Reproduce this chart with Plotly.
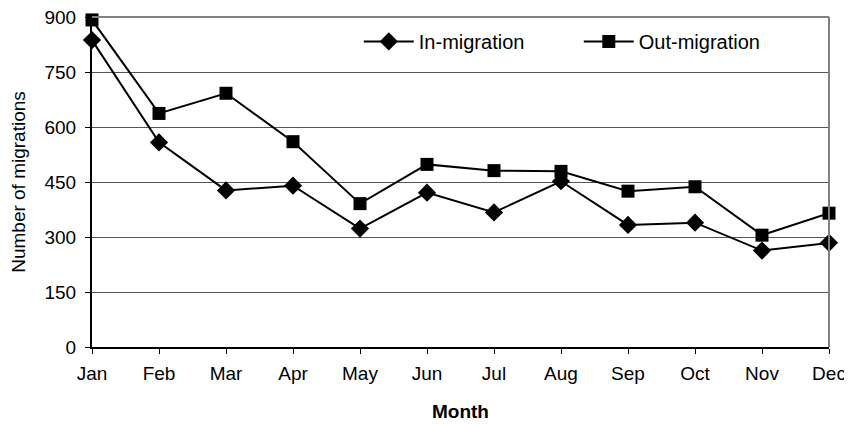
import plotly.graph_objects as go

months = ["Jan", "Feb", "Mar", "Apr", "May", "Jun", "Jul", "Aug", "Sep", "Oct", "Nov", "Dec"]
in_migration = [837, 558, 427, 440, 323, 421, 367, 452, 333, 339, 263, 284]
out_migration = [892, 637, 692, 560, 391, 498, 481, 479, 425, 437, 305, 365]
y_ticks = [0, 150, 300, 450, 600, 750, 900]

fig = go.Figure()
fig.add_trace(go.Scatter(
    x=months, y=in_migration, name="In-migration", mode="lines+markers",
    line=dict(color="black", width=2),
    marker=dict(symbol="diamond", size=14, color="black"),
    cliponaxis=False,
))
fig.add_trace(go.Scatter(
    x=months, y=out_migration, name="Out-migration", mode="lines+markers",
    line=dict(color="black", width=2),
    marker=dict(symbol="square", size=13, color="black"),
    cliponaxis=False,
))

font = "Liberation Sans, Arial, sans-serif"
fs = 19
fig.update_layout(
    width=844, height=417,
    margin=dict(l=84, r=23, t=9, b=78),
    paper_bgcolor="white", plot_bgcolor="white",
    font=dict(family=font, size=fs, color="black"),
    showlegend=True,
    legend=dict(orientation="h", x=0.362, y=0.985, xanchor="left", yanchor="top",
                bgcolor="rgba(0,0,0,0)", font=dict(size=20), itemwidth=50,
                entrywidth=155, entrywidthmode="pixels"),
    xaxis=dict(
        type="category", range=[0, 11], showgrid=False, automargin=False,
        showline=True, linecolor="black", linewidth=2,
        ticks="outside", ticklen=5, tickcolor="black", tickwidth=1,
        tickfont=dict(size=fs), ticklabeloverflow="allow", ticklabelstandoff=3,
        title=dict(text="<b>Month</b>", font=dict(size=fs), standoff=22),
    ),
    yaxis=dict(
        range=[0, 900], tickvals=y_ticks, showgrid=True, automargin=False,
        gridcolor="#555555", gridwidth=1,
        showline=True, linecolor="black", linewidth=2,
        ticks="outside", ticklen=5, tickcolor="black", tickwidth=1,
        tickfont=dict(size=fs), zeroline=False,
        ticklabeloverflow="allow", ticklabelstandoff=5,
        title=dict(text="Number of migrations", font=dict(size=fs), standoff=17),
    ),
    shapes=[
        dict(type="line", xref="x domain", yref="y domain", x0=0, x1=1, y0=1, y1=1,
             line=dict(color="#808080", width=2)),
        dict(type="line", xref="x domain", yref="y domain", x0=1, x1=1, y0=0, y1=1,
             line=dict(color="#808080", width=2)),
    ],
)

fig.write_html("out.html")
